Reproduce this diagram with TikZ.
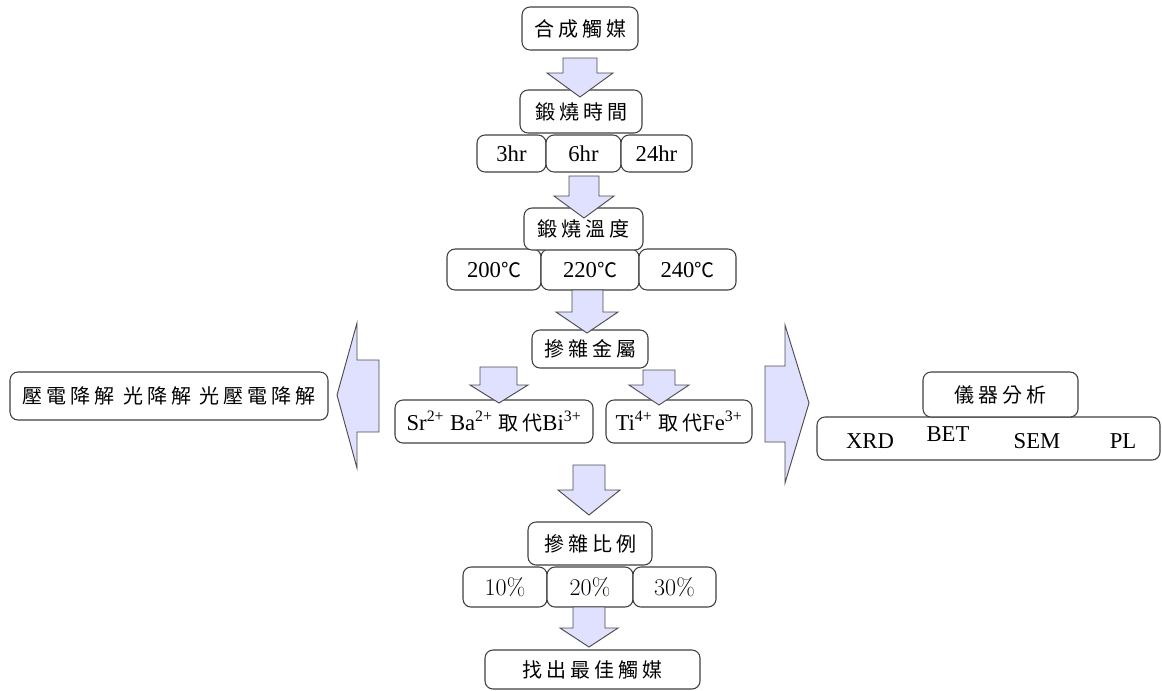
\documentclass[tikz,border=0pt]{standalone}
\usepackage{fontspec}
\newfontfamily\cjk[LetterSpace=20]{Noto Sans CJK TC}
\newfontfamily\tms{Liberation Serif}
\newcommand{\cjs}{\cjk\fontsize{15}{18}\selectfont}
\tikzset{
  box/.style={draw=black!75, line width=0.8pt, rounded corners=6pt, fill=white, inner sep=0pt, align=center},
  ct/.style={font=\cjs},
  lt/.style={font=\tms\fontsize{17}{20}\selectfont},
  pt/.style={font=\fontsize{18}{21}\selectfont},
  blockarrow/.style={draw=black!70, line width=0.7pt, fill=blue!12!white, line join=miter}
}
\begin{document}
\begin{tikzpicture}[x=0.75pt,y=-0.75pt]
\path[use as bounding box] (0,0) rectangle (1162,690);

% main column boxes
\node[box,ct,minimum width=87pt,minimum height=32.25pt] (synth) at (580,28.5) {合成觸媒};
\node[box,lt,minimum width=51.75pt,minimum height=27.75pt] (h3) at (511.5,153.5) {3hr};
\node[box,lt,minimum width=56.25pt,minimum height=27.75pt] (h6) at (583.5,153.5) {6hr};
\node[box,lt,minimum width=53.25pt,minimum height=27.75pt] (h24) at (656.5,153.5) {24hr};
\node[box,ct,minimum width=91.5pt,minimum height=32.25pt] (time) at (581,111.5) {鍛燒時間};

\node[box,lt,minimum width=70.5pt,minimum height=30.75pt] (t200) at (494,269.5) {200{\cjs ℃}};
\node[box,lt,minimum width=73.5pt,minimum height=30.75pt] (t220) at (590,269.5) {220{\cjs ℃}};
\node[box,lt,minimum width=72.75pt,minimum height=30.75pt] (t240) at (687.5,269.5) {240{\cjs ℃}};
\node[box,ct,minimum width=89.25pt,minimum height=31.5pt] (temp) at (583.5,229) {鍛燒溫度};

\node[box,ct,minimum width=87pt,minimum height=28.5pt] (metal) at (590,349) {摻雜金屬};
\node[box,lt,minimum width=148.5pt,minimum height=32.25pt] (srba) at (494,421.5) {Sr\textsuperscript{2+} Ba\textsuperscript{2+} {\cjs 取代}Bi\textsuperscript{3+}};
\node[box,lt,minimum width=109.5pt,minimum height=32.25pt] (ti) at (679,421.5) {Ti\textsuperscript{4+} {\cjs 取代}Fe\textsuperscript{3+}};

\node[box,pt,minimum width=63pt,minimum height=30pt] (p10) at (505,587) {10\%};
\node[box,pt,minimum width=64.5pt,minimum height=30pt] (p20) at (590,587) {20\%};
\node[box,pt,minimum width=62.25pt,minimum height=30pt] (p30) at (674.5,587) {30\%};
\node[box,ct,minimum width=93pt,minimum height=32.25pt] (ratio) at (590,543.5) {摻雜比例};
\node[box,ct,minimum width=161.25pt,minimum height=29.25pt] (best) at (592.5,669.5) {找出最佳觸媒};

% side boxes
\node[box,ct,minimum width=238.5pt,minimum height=36pt] (degr) at (169,396) {壓電降解 光降解 光壓電降解};
\node[box,lt,minimum width=257.25pt,minimum height=32.25pt] (instr) at (988.5,438.5) {};
\node[lt] (xrd) at (870,441) {XRD};
\node[lt] (bet) at (948,434) {BET};
\node[lt] (sem) at (1037,441) {SEM};
\node[lt] (pl) at (1123,441) {PL};
\node[box,ct,minimum width=116.25pt,minimum height=33.75pt] (anal) at (1000.5,394.5) {儀器分析};

% block arrows (down)
\draw[blockarrow] (563,58) -- (597,58) -- (597,73) -- (613,73) -- (580,97) -- (547,73) -- (563,73) -- cycle;
\draw[blockarrow] (569,176) -- (599,176) -- (599,196) -- (614,196) -- (584,218) -- (554,196) -- (569,196) -- cycle;
\draw[blockarrow] (572,290) -- (603,290) -- (603,312) -- (618,312) -- (587,333) -- (556,312) -- (572,312) -- cycle;
\draw[blockarrow] (480,367) -- (517,367) -- (517,385) -- (528,385) -- (499,403) -- (470,385) -- (480,385) -- cycle;
\draw[blockarrow] (643,370) -- (675,370) -- (675,385) -- (689,385) -- (659,405) -- (629,385) -- (643,385) -- cycle;
\draw[blockarrow] (573,465) -- (605,465) -- (605,490) -- (620,490) -- (589,515) -- (558,490) -- (573,490) -- cycle;
\draw[blockarrow] (573,607) -- (605,607) -- (605,628) -- (618,628) -- (589,647) -- (560,628) -- (573,628) -- cycle;

% side block arrows
\draw[blockarrow] (379,360) -- (379,432) -- (357,432) -- (357,468) -- (337,395) -- (357,323) -- (357,360) -- cycle;
\draw[blockarrow] (765,366) -- (765,442) -- (785,442) -- (785,483) -- (809,403) -- (785,325) -- (785,366) -- cycle;
\end{tikzpicture}
\end{document}
